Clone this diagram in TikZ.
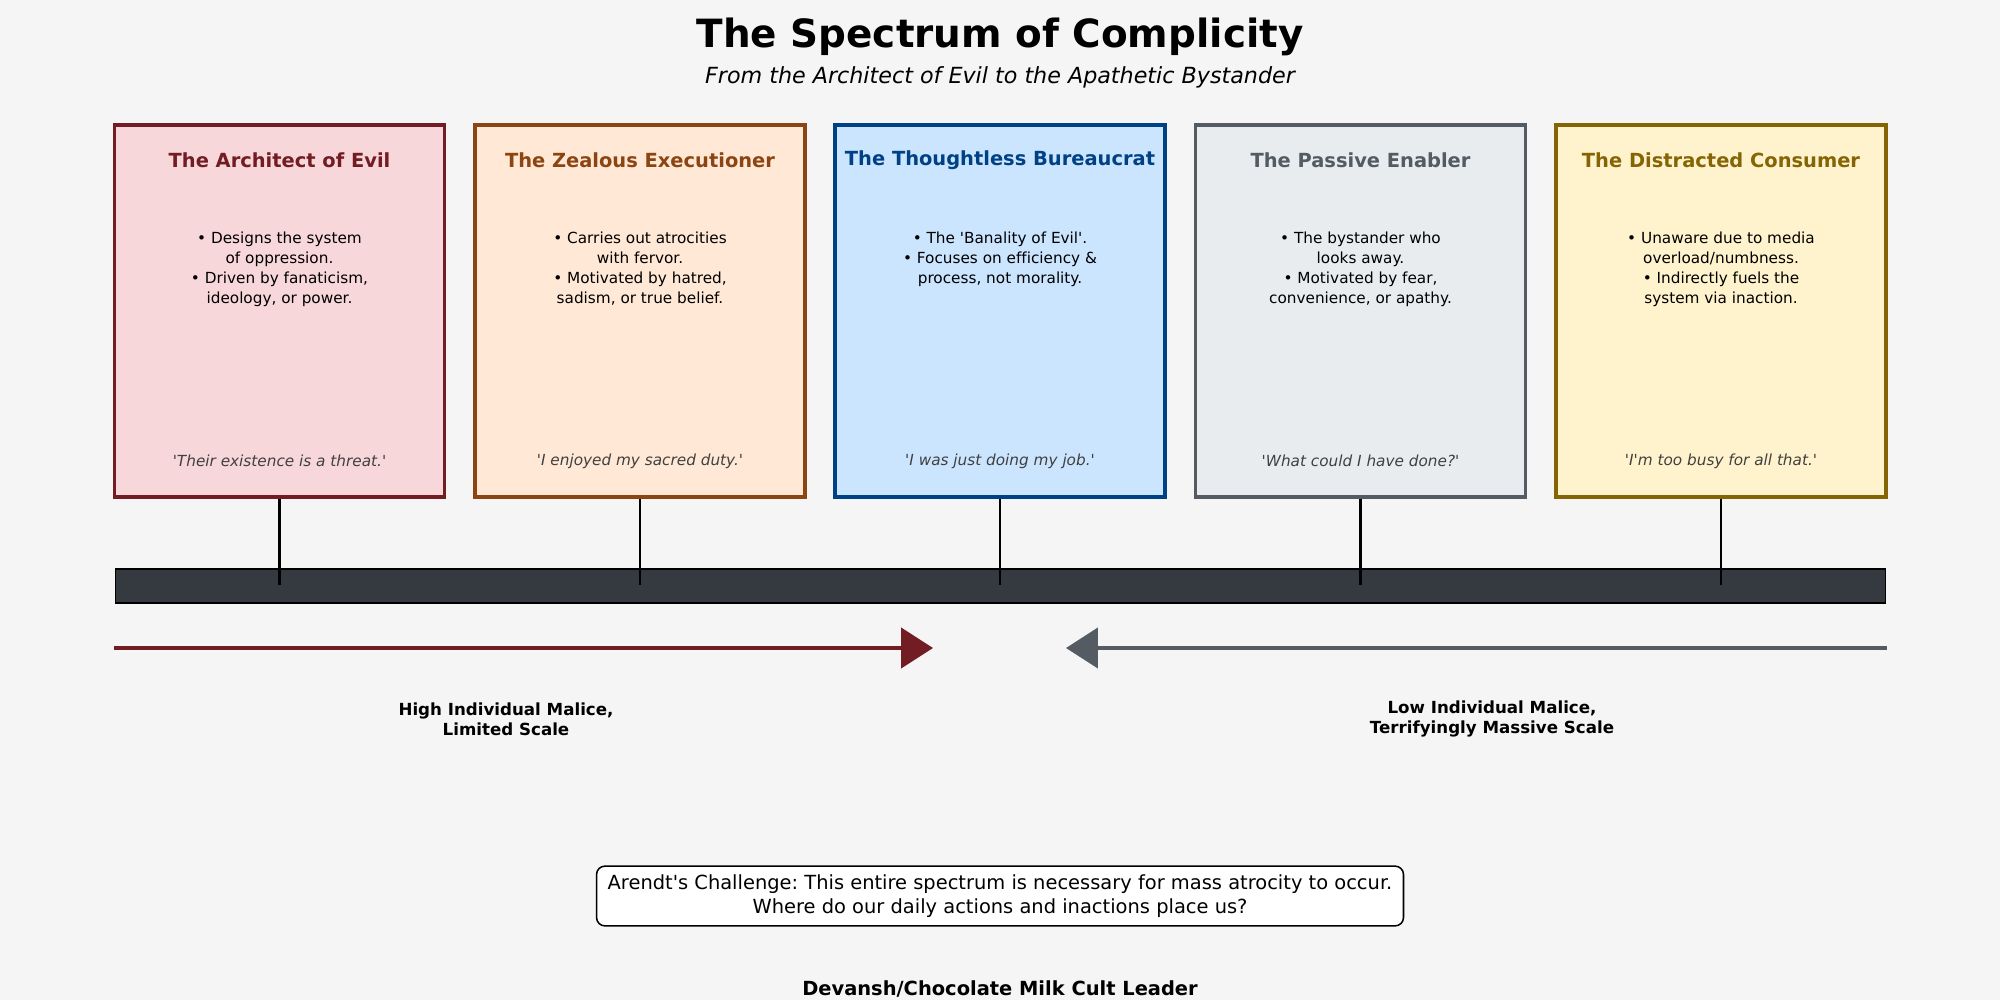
\documentclass[tikz,border=0pt]{standalone}
\usepackage{fontspec}
\setmainfont{DejaVu Sans}[Ligatures={TeXOff,CommonOff}]
\usepackage{xcolor}
\usetikzlibrary{arrows.meta}
\frenchspacing

\definecolor{pagebg}{HTML}{F5F5F5}
\definecolor{archdark}{HTML}{721C24}
\definecolor{archlight}{HTML}{F8D7DA}
\definecolor{zealdark}{HTML}{8B4513}
\definecolor{zeallight}{HTML}{FFE8D6}
\definecolor{burodark}{HTML}{004085}
\definecolor{burolight}{HTML}{CCE5FF}
\definecolor{passdark}{HTML}{545B62}
\definecolor{passlight}{HTML}{E9ECEF}
\definecolor{consdark}{HTML}{856404}
\definecolor{conslight}{HTML}{FFF3CD}
\definecolor{quotegray}{HTML}{404040}
\definecolor{bardark}{HTML}{343A40}

\tikzset{
  rolebox/.style={draw, line width=2.4pt, minimum width=237.6pt, minimum height=267.8pt, inner sep=0pt},
  roletitle/.style={inner sep=0pt, font=\fontsize{14}{17}\selectfont\bfseries},
  rolebullets/.style={anchor=north, inner sep=0pt, align=center, font=\fontsize{11}{14.2}\selectfont},
  rolequote/.style={inner sep=0pt, text=quotegray, font=\fontsize{11}{13}\selectfont\itshape},
  tickline/.style={line width=1.5pt},
  scalelabel/.style={align=center, inner sep=0pt, font=\fontsize{12}{14.7}\selectfont\bfseries},
}

\begin{document}
\begin{tikzpicture}[x=0.72pt, y=-0.72pt]
\fill[pagebg] (0,0) rectangle (2000,1000);
\useasboundingbox (0,0) rectangle (2000,1000);

% heading
\node[inner sep=0pt, font=\fontsize{28}{34}\selectfont\bfseries] (title) at (1000,37) {The Spectrum of Complicity};
\node[inner sep=0pt, font=\fontsize{16}{19}\selectfont\itshape] (subtitle) at (1000,77) {From the Architect of Evil to the Apathetic Bystander};

% the five roles
\node[rolebox, draw=archdark, fill=archlight] (arch) at (279.5,311) {};
\node[roletitle, text=archdark] (archtitle) at (279.5,160) {The Architect of Evil};
\node[rolebullets] (archtext) at (279.5,232) {• Designs the system\\of oppression.\\• Driven by fanaticism,\\ideology, or power.};
\node[rolequote] (archquote) at (279.5,461) {'Their existence is a threat.'};

\node[rolebox, draw=zealdark, fill=zeallight] (zeal) at (640,311) {};
\node[roletitle, text=zealdark] (zealtitle) at (640,160) {The Zealous Executioner};
\node[rolebullets] (zealtext) at (640,232) {• Carries out atrocities\\with fervor.\\• Motivated by hatred,\\sadism, or true belief.};
\node[rolequote] (zealquote) at (640,461) {'I enjoyed my sacred duty.'};

\node[rolebox, draw=burodark, fill=burolight] (buro) at (1000,311) {};
\node[roletitle, text=burodark] (burotitle) at (1000,160) {The Thoughtless Bureaucrat};
\node[rolebullets] (burotext) at (1000,232) {• The 'Banality of Evil'.\\• Focuses on efficiency \&\\process, not morality.};
\node[rolequote] (buroquote) at (1000,461) {'I was just doing my job.'};

\node[rolebox, draw=passdark, fill=passlight] (pass) at (1360.5,311) {};
\node[roletitle, text=passdark] (passtitle) at (1360.5,160) {The Passive Enabler};
\node[rolebullets] (passtext) at (1360.5,232) {• The bystander who\\looks away.\\• Motivated by fear,\\convenience, or apathy.};
\node[rolequote] (passquote) at (1360.5,461) {'What could I have done?'};

\node[rolebox, draw=consdark, fill=conslight] (cons) at (1721,311) {};
\node[roletitle, text=consdark] (constitle) at (1721,160) {The Distracted Consumer};
\node[rolebullets] (constext) at (1721,232) {• Unaware due to media\\overload/numbness.\\• Indirectly fuels the\\system via inaction.};
\node[rolequote] (consquote) at (1721,461) {'I'm too busy for all that.'};

% spectrum bar and ticks
\node[draw=black, line width=0.8pt, fill=bardark, minimum width=1275pt, minimum height=24.5pt, inner sep=0pt] (bar) at (1000.5,586) {};
\coordinate (archtick) at (279.5,585);
\coordinate (zealtick) at (640,585);
\coordinate (burotick) at (1000,585);
\coordinate (passtick) at (1360.5,585);
\coordinate (constick) at (1721,585);
\draw[tickline] (arch.south) -- (archtick);
\draw[tickline] (zeal.south) -- (zealtick);
\draw[tickline] (buro.south) -- (burotick);
\draw[tickline] (pass.south) -- (passtick);
\draw[tickline] (cons.south) -- (constick);

% direction arrows
\coordinate (highstart) at (114,648);
\coordinate (highend) at (933,648);
\coordinate (lowstart) at (1887,648);
\coordinate (lowend) at (1066,648);
\draw[archdark, line width=2.4pt, -{Triangle[length=23pt,width=29pt]}] (highstart) -- (highend);
\draw[passdark, line width=2.4pt, -{Triangle[length=23pt,width=29pt]}] (lowstart) -- (lowend);
\node[scalelabel] (highlabel) at (506,719) {High Individual Malice,\\Limited Scale};
\node[scalelabel] (lowlabel) at (1492,719) {Low Individual Malice,\\Terrifyingly Massive Scale};

% closing question
\node[draw=black, line width=1.1pt, fill=white, rounded corners=6pt, align=center, minimum width=581pt, minimum height=43pt, inner sep=0pt, font=\fontsize{14}{16.8}\selectfont] (challenge) at (1000,896) {Arendt's Challenge: This entire spectrum is necessary for mass atrocity to occur.\\Where do our daily actions and inactions place us?};
\node[inner sep=0pt, font=\fontsize{14}{17}\selectfont\bfseries] (credit) at (1000,989) {Devansh/Chocolate Milk Cult Leader};
\end{tikzpicture}
\end{document}
